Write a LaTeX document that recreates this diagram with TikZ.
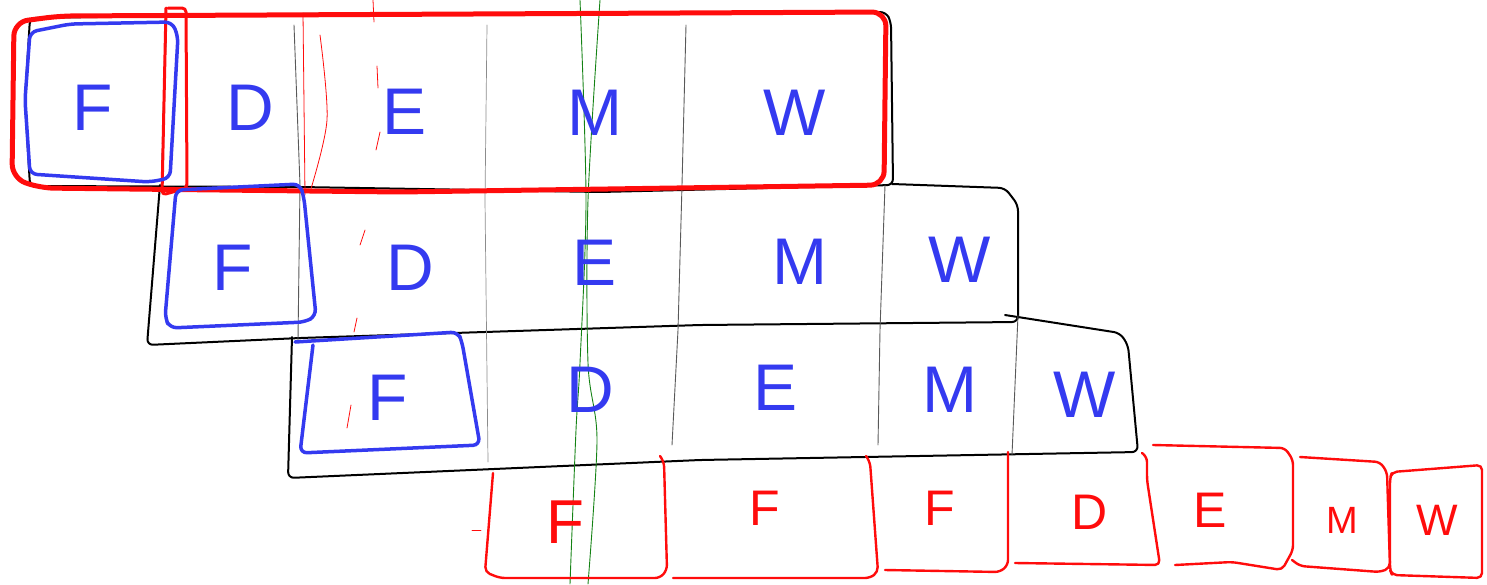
\documentclass[tikz,border=0pt]{standalone}
\usepackage{fontspec}
\setmainfont{Liberation Sans}
\begin{document}
\begin{tikzpicture}[x=1pt,y=-1pt,line join=round,line cap=round]
\definecolor{hblue}{RGB}{52,58,240}
\definecolor{hred}{RGB}{255,12,12}
\definecolor{hgreen}{RGB}{20,130,20}
\tikzset{
  blk/.style={draw=black,line width=2pt},
  thinline/.style={draw=black!65,line width=0.9pt},
  redthick/.style={draw=hred,line width=5pt,rounded corners=14pt},
  redthin/.style={draw=hred,line width=0.8pt},
  bluebox/.style={draw=hblue,line width=3.5pt,rounded corners=7pt},
  redbox/.style={draw=hred,line width=2.4pt,rounded corners=5pt},
  greenline/.style={draw=hgreen,line width=0.9pt},
  lt/.style={text=hblue,inner sep=0pt,font=\fontsize{66}{66}\selectfont},
  rlt/.style={text=hred,inner sep=0pt,font=\fontsize{62}{62}\selectfont},
  rlts/.style={text=hred,inner sep=0pt,font=\fontsize{50}{50}\selectfont}
}
\useasboundingbox (0,0) rectangle (1487,584);

% ---------- black rows ----------
\draw[blk,rounded corners=6] (30,18) -- (300,14) -- (886,12) -- (891,22) -- (893,185) -- (600,192) -- (300,187) -- (30,186) -- (25,100) -- cycle;
\draw[blk,rounded corners=6] (160,185) -- (147,345) -- (300,338) -- (700,325) -- (1018,322) -- (1018,205) -- (1005,188) -- (892,184);
\draw[blk,rounded corners=6] (292,337) -- (288,478) -- (700,460) -- (1138,452) -- (1128,345) -- (1120,333) -- (1005,315);

% vertical dividers
\draw[blk,dash pattern=on 14pt off 9pt] (166,15) -- (162,185);
\draw[thinline] (294,25) -- (300,185) -- (298,340);
\draw[thinline,draw=black!45,line width=0.7pt] (487,25) -- (485,200) -- (488,462);
\draw[thinline] (686,25) -- (682,185) -- (678,330) -- (672,445);
\draw[thinline] (885,185) -- (880,330) -- (878,445);
\draw[thinline] (1018,315) -- (1012,455);

% ---------- green guide lines ----------
\draw[greenline] plot[smooth] coordinates {(580,0) (586,200) (580,363) (576,430) (570,584)};
\draw[greenline] plot[smooth] coordinates {(600,0) (588,200) (588,363) (597,440) (588,584)};

% ---------- faint red marks ----------
\draw[redthin] (303,13) -- (305,195);
\draw[redthin] plot[smooth] coordinates {(320,35) (327,120) (310,192)};
\draw[redthin] (373,0) -- (374,22);
\draw[redthin] (377,66) -- (378,88);
\draw[redthin] (380,132) -- (376,150);
\draw[redthin] (365,230) -- (360,245);
\draw[redthin] (357,318) -- (354,332);
\draw[redthin] (351,405) -- (347,428);

% ---------- red outline of row 1 ----------
\draw[redthick] (14,22) -- (60,16) -- (886,12) -- (884,185) -- (400,192) -- (40,188) -- (12,178) -- cycle;
\draw[draw=hred,line width=3pt,rounded corners=4pt] (168,8) -- (186,8) -- (187,188) -- (162,195) -- (166,8);

% ---------- blue boxes ----------
\draw[bluebox] (30,32) -- (70,24) -- (172,22) -- (178,36) -- (170,178) -- (150,182) -- (30,174) -- (25,100) -- cycle;
\draw[bluebox] (176,190) -- (300,184) -- (304,198) -- (316,316) -- (305,322) -- (170,328) -- (165,318) -- cycle;
\draw[bluebox] (295,342) -- (458,332) -- (462,342) -- (480,445) -- (300,453) -- (313,345);

% ---------- red row 4 ----------
\draw[redbox] (493,473) -- (485,572) -- (500,578) -- (660,578) -- (667,570) -- (664,462) -- (660,456);
\draw[redbox] (673,578) -- (870,578) -- (878,572) -- (870,462) -- (866,456);
\draw[redbox] (885,570) -- (1000,572) -- (1008,565) -- (1008,452);
\draw[redbox] (1015,563) -- (1160,565) -- (1147,480) -- (1147,457) -- (1142,453);
\draw[redbox] (1153,445) -- (1285,448) -- (1293,460) -- (1293,550) -- (1282,570) -- (1232,562) -- (1175,565);
\draw[redbox] (1300,457) -- (1380,462) -- (1387,472) -- (1390,568) -- (1380,572) -- (1300,566) -- (1292,560);
\draw[redbox] (1392,472) -- (1482,465) -- (1482,578) -- (1392,575) -- (1390,570) -- (1390,478) -- cycle;
\draw[redthin] (472,530) -- (481,530);

% ---------- letters ----------
\node[lt] (r1f) at (93,108) {F};
\node[lt] (r1d) at (250,108) {D};
\node[lt] (r1e) at (405,112) {E};
\node[lt] (r1m) at (595,113) {M};
\node[lt] (r1w) at (795,113) {W};

\node[lt] (r2f) at (233,268) {F};
\node[lt] (r2d) at (410,268) {D};
\node[lt] (r2e) at (595,263) {E};
\node[lt] (r2m) at (800,262) {M};
\node[lt] (r2w) at (960,260) {W};

\node[lt] (r3f) at (388,398) {F};
\node[lt] (r3d) at (590,390) {D};
\node[lt] (r3e) at (775,388) {E};
\node[lt] (r3m) at (950,390) {M};
\node[lt] (r3w) at (1085,395) {W};

\node[rlt] (r4f1) at (565,522) {F};
\node[rlts] (r4f2) at (765,508) {F};
\node[rlts] (r4f3) at (940,508) {F};
\node[rlts] (r4d) at (1090,512) {D};
\node[rlts] (r4e) at (1210,510) {E};
\node[rlts,font=\fontsize{38}{38}\selectfont] (r4m) at (1342,520) {M};
\node[rlts,font=\fontsize{44}{44}\selectfont] (r4w) at (1437,520) {W};
\end{tikzpicture}
\end{document}
